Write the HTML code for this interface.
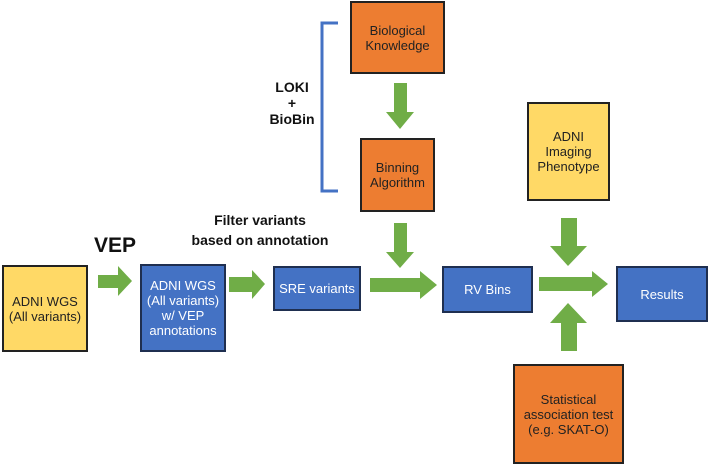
<!DOCTYPE html>
<html><head><style>
body{margin:0;width:709px;height:465px;background:#fff;position:relative;overflow:hidden;font-family:"Liberation Sans",sans-serif}
.b{position:absolute;box-sizing:border-box;border:2px solid #222;display:flex;align-items:center;justify-content:center;text-align:center;font-size:13px;line-height:15px}
.y{background:#FFD966;color:#222}.bl{background:#4472C4;color:#fff;border-color:#1f2f50}.o{background:#ED7D31;color:#222}
.t{position:absolute;font-weight:bold;text-align:center;color:#111}
</style></head><body>
<div class="b y" style="left:2px;top:265px;width:86px;height:87px">ADNI WGS<br>(All variants)</div>
<div class="b bl" style="left:140px;top:264px;width:86px;height:88px">ADNI WGS<br>(All variants)<br>w/ VEP<br>annotations</div>
<div class="b bl" style="left:273px;top:266px;width:88px;height:45px">SRE variants</div>
<div class="b o" style="left:350px;top:1px;width:95px;height:73px">Biological<br>Knowledge</div>
<div class="b o" style="left:360px;top:138px;width:75px;height:74px">Binning<br>Algorithm</div>
<div class="b bl" style="left:442px;top:266px;width:91px;height:47px">RV Bins</div>
<div class="b y" style="left:527px;top:102px;width:83px;height:99px">ADNI<br>Imaging<br>Phenotype</div>
<div class="b bl" style="left:616px;top:266px;width:92px;height:56px">Results</div>
<div class="b o" style="left:513px;top:364px;width:111px;height:100px">Statistical<br>association test<br>(e.g. SKAT-O)</div>
<div class="t" style="left:88px;top:234px;width:54px;font-size:21px">VEP</div>
<div class="t" style="left:180px;top:210px;width:160px;font-size:14px;line-height:20px">Filter variants<br>based on annotation</div>
<div class="t" style="left:262px;top:79px;width:60px;font-size:14px;line-height:16px">LOKI<br>+<br>BioBin</div>
<svg width="709" height="465" style="position:absolute;left:0;top:0">
<g fill="#70AD47">
<polygon points="98,275 118,275 118,266 132,281 118,296 118,288 98,288"/>
<polygon points="229,277 252,277 252,270 265,284 252,299 252,292 229,292"/>
<polygon points="370,278 420,278 420,271 437,285 420,299 420,292 370,292"/>
<polygon points="539,277 592,277 592,271 608,284 592,297 592,291 539,291"/>
<polygon points="394,83 407,83 407,112 414,112 400,129 386,112 394,112"/>
<polygon points="394,223 407,223 407,252 414,252 400,268 386,252 394,252"/>
<polygon points="561,218 577,218 577,246 587,246 568,266 550,246 561,246"/>
<polygon points="561,351 577,351 577,323 587,323 568,303 550,323 561,323"/>
</g>
<path d="M338,23 L322,23 L322,191 L338,191" fill="none" stroke="#4472C4" stroke-width="3"/>
</svg>
</body></html>
